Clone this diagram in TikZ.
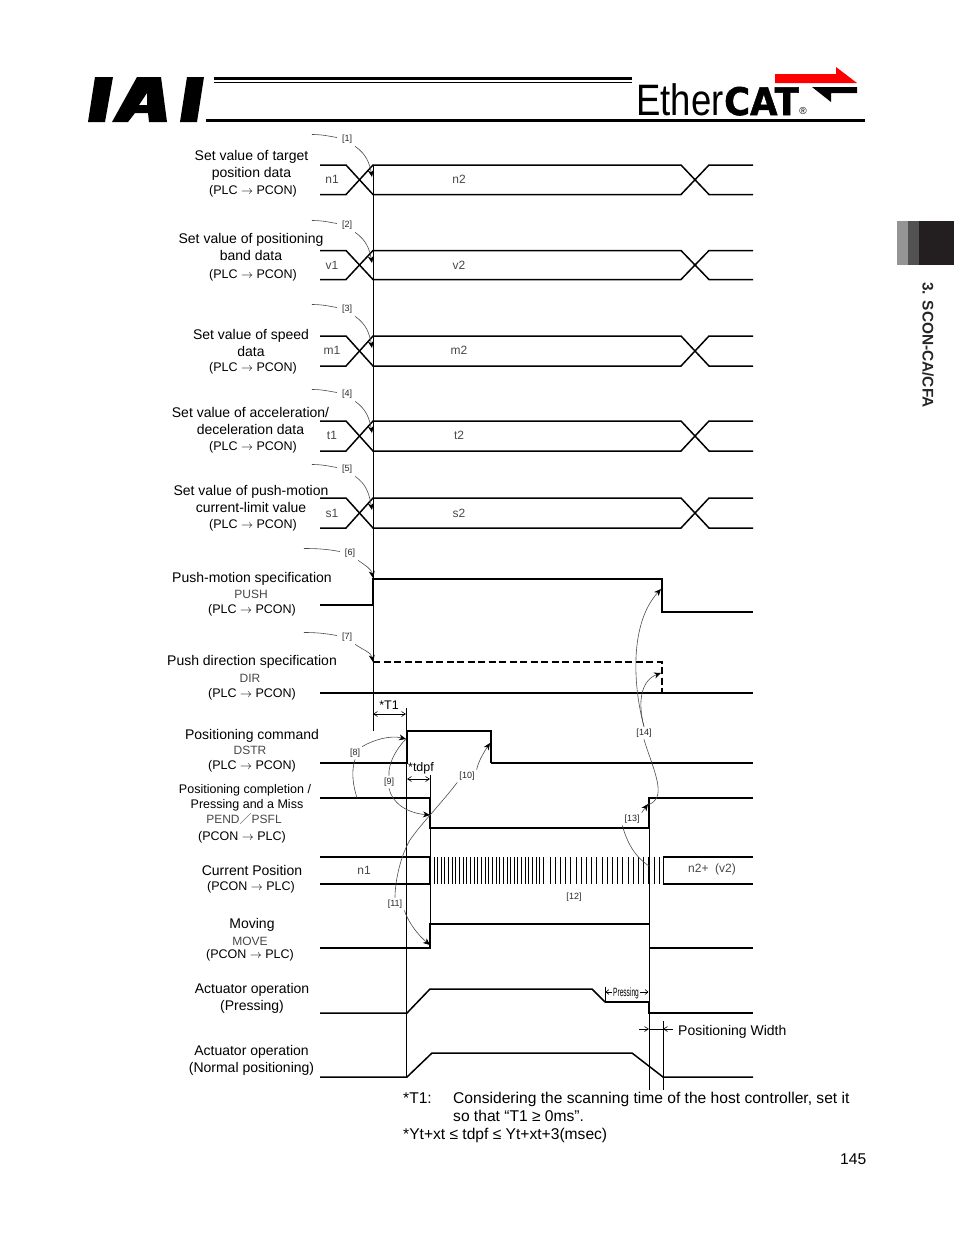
\documentclass[tikz,border=0pt]{standalone}
\usepackage{fontspec}
\setmainfont{Liberation Sans}
\newfontfamily\cjkfont{Noto Sans CJK JP}
\newfontfamily\catfont[BoldFeatures={FakeBold=1.5}]{DejaVu Sans}
\usetikzlibrary{arrows.meta}
\definecolor{tabdark}{HTML}{231F20}
\newcommand{\plcpcon}{(PLC $\rightarrow$ PCON)}
\newcommand{\pconplc}{(PCON $\rightarrow$ PLC)}
\newcommand{\smalltext}{\fontsize{12.5}{15}\selectfont}
\begin{document}
\begin{tikzpicture}[
  x=1pt, y=-1pt, >=Stealth,
  every node/.style={inner sep=0pt},
  sigtext/.style={font=\fontsize{14}{17}\selectfont, align=center},
  sigsmall/.style={font=\smalltext},
  sigcode/.style={font=\fontsize{12}{14}\selectfont, black!72},
  buslabel/.style={font=\fontsize{12}{14}\selectfont, black!72},
  tag/.style={font=\fontsize{9}{11}\selectfont, black!85, inner sep=2pt},
  note/.style={font=\fontsize{15.6}{18}\selectfont, anchor=base west},
  wave/.style={line width=2pt},
  bus/.style={line width=1.5pt},
  guide/.style={line width=1pt},
  call/.style={black!70, line width=0.6pt},
  callarr/.style={call, -{Stealth[length=7pt,width=6pt,black]}},
  dim/.style={line width=0.6pt, {Straight Barb[length=4pt,width=5pt]}-{Straight Barb[length=4pt,width=5pt]}}
]
\useasboundingbox (0,0) rectangle (954,1235);

%% Header logos
\fill (95,77) -- (113,77) -- (105,122) -- (88,122) -- cycle;
\fill[even odd rule] (137,77) -- (161,77) -- (167,122) -- (149,122) -- (148,113) -- (135,113) -- (128,122) -- (112,122) -- cycle
  (147,93) -- (147,105) -- (139,105) -- cycle;
\fill (187,77) -- (204,77) -- (197,122) -- (180,122) -- cycle;
\fill (214,76.5) rectangle (632,79.5);
\fill (214,81.5) rectangle (632,82.7);
\fill (206,118.8) rectangle (865,121.6);
\node[anchor=base west] (ether) at (636,115) {\scalebox{0.83}[1]{\fontsize{44}{44}\selectfont Ether}};
\node[anchor=base west] (cat) at (724,115) {\scalebox{0.93}[1]{\fontsize{38}{38}\selectfont\catfont\bfseries CAT}};
\node (regmark) at (803,111) {\fontsize{10}{10}\selectfont ®};
\fill[red] (775,74) -- (836,74) -- (836,67) -- (857,83) -- (775,83) -- cycle;
\fill (812,87) -- (857,87) -- (857,93) -- (831,93) -- (831,102) -- cycle;

%% Side tab
\fill[black!42] (897,221) rectangle (908,265);
\fill[black!68] (908,221) rectangle (919,265);
\fill[tabdark] (919,221) rectangle (954,265);
\node[rotate=-90, font=\fontsize{15.4}{17}\selectfont\bfseries, black!85] (chapter) at (928,345) {3. SCON-CA/CFA};

%% Guide lines
\draw[guide] (373,165) -- (373,731);
\draw[guide] (406.5,708) -- (406.5,1077);
\draw[guide] (430,775) -- (430,948);
\draw[guide] (649,798) -- (649,1090);
\draw[guide] (663,1021) -- (663,1090);

%% Data rows
\foreach \ytop/\ybot/\tagA/\tagB/\ymid in {165/194.5/n1/n2/179.5, 250.5/279.5/v1/v2/265.5, 336/366/m1/m2/350.5, 421/451/t1/t2/435.5, 498/528/s1/s2/513.5}{
  \draw[bus] (320,\ytop) -- (346,\ytop) -- (373,\ybot) -- (681,\ybot) -- (709,\ytop) -- (753,\ytop);
  \draw[bus] (320,\ybot) -- (346,\ybot) -- (373,\ytop) -- (681,\ytop) -- (709,\ybot) -- (753,\ybot);
  \node[buslabel] at (332,\ymid) {\tagA};
  \node[buslabel] at (459,\ymid) {\tagB};
}

%% Row labels
\node[sigtext] (target) at (251.5,165) {Set value of target\\position data};
\node[sigsmall] (targetdir) at (253,191) {\plcpcon};
\node[sigtext] (band) at (251,247) {Set value of positioning\\band data};
\node[sigsmall] (banddir) at (253,275) {\plcpcon};
\node[sigtext] (speed) at (251,343) {Set value of speed\\data};
\node[sigsmall] (speeddir) at (253,368) {\plcpcon};
\node[sigtext] (accel) at (250.5,421) {Set value of acceleration/\\deceleration data};
\node[sigsmall] (acceldir) at (253,447) {\plcpcon};
\node[sigtext] (limit) at (251,499) {Set value of push-motion\\current-limit value};
\node[sigsmall] (limitdir) at (253,525) {\plcpcon};
\node[sigtext] (push) at (252,578.5) {Push-motion specification};
\node[sigcode] (pushsig) at (251,594.5) {PUSH};
\node[sigsmall] (pushdir) at (252,610) {\plcpcon};
\node[sigtext] (dir) at (252,661.5) {Push direction specification};
\node[sigcode] (dirsig) at (250,678) {DIR};
\node[sigsmall] (dirdir) at (252,694) {\plcpcon};
\node[sigtext] (dstr) at (252,735.5) {Positioning command};
\node[sigcode] (dstrsig) at (250,750) {DSTR};
\node[sigsmall] (dstrdir) at (252,766) {\plcpcon};
\node[sigsmall] (pend) at (245,790) {Positioning completion /};
\node[sigsmall] (pend2) at (247,805) {Pressing and a Miss};
\node[sigcode] (pendsig) at (244,819) {PEND{\cjkfont ／}PSFL};
\node[sigsmall] (penddir) at (242,837) {\pconplc};
\node[sigtext] (curpos) at (252,870) {Current Position};
\node[sigsmall] (curposdir) at (251,887) {\pconplc};
\node[sigtext] (moving) at (252,924.5) {Moving};
\node[sigcode] (movesig) at (250,941) {MOVE};
\node[sigsmall] (movedir) at (250,955) {\pconplc};
\node[sigtext] (actp) at (252,998.5) {Actuator operation\\(Pressing)};
\node[sigtext] (actn) at (251.5,1060.5) {Actuator operation\\(Normal positioning)};

%% PUSH and DIR
\draw[wave] (320,605) -- (373,605) -- (373,579) -- (662,579) -- (662,612) -- (753,612);
\draw[line width=1.1pt, dash pattern=on 7pt off 3.5pt] (373,662) -- (662,662) -- (662,692);
\draw[wave] (320,693) -- (753,693);

%% DSTR and T1
\draw[wave] (320,763) -- (406.5,763) -- (406.5,731);
\draw[bus] (406.5,731) -- (491,731) -- (491,763);
\draw[wave] (491,763) -- (753,763);
\draw[dim] (373,714) -- (406,714);
\node[font=\fontsize{12.5}{15}\selectfont] (tone) at (389,705) {*T1};

%% PEND and tdpf
\draw[wave] (320,798) -- (430,798) -- (430,828) -- (649,828) -- (649,798) -- (753,798);
\draw[dim] (407,779) -- (430,779);
\node[font=\fontsize{12.5}{15}\selectfont] (tdpf) at (421,768) {*tdpf};

%% Current position
\draw[wave] (320,857) -- (430,857) -- (430,884);
\draw[bus] (320,884) -- (430,884);
\node[buslabel] (npos) at (364,870) {n1};
\foreach \x in {434,437.65,...,546}{
  \draw[line width=1pt] (\x,857) -- (\x,884);
}
\foreach \x in {550,555.2,...,661}{
  \draw[line width=1pt] (\x,857) -- (\x,884);
}
\draw[bus] (753,857) -- (663.5,857) -- (663.5,884) -- (753,884);
\node[buslabel] (nend) at (712,869.5) {n2+\ \ (v2)};

%% MOVE
\draw[wave] (320,948) -- (430,948) -- (430,924) -- (649,924);
\draw[wave] (649,948) -- (753,948);

%% Actuator pressing
\draw[bus] (320,1013) -- (407,1013) -- (430,989) -- (592,989) -- (605,1002);
\draw[wave] (605,1002) -- (649,1002);
\draw[bus] (649,1002) -- (649,1013) -- (753,1013);
\draw[line width=0.6pt] (605,987) -- (605,1002);
\draw[line width=0.6pt] (606,992) -- (612,992);
\draw[line width=0.6pt] (640,992) -- (648,992);
\draw[line width=0.6pt] (609,989.5) -- (606,992) -- (609,994.5);
\draw[line width=0.6pt] (645,989.5) -- (648,992) -- (645,994.5);
\node (pressing) at (626,993) {\scalebox{0.55}[1]{\fontsize{12}{14}\selectfont Pressing}};

%% Actuator positioning
\draw[bus] (320,1077) -- (407,1077) -- (432,1053) -- (632,1053) -- (663,1077) -- (753,1077);
\draw[line width=0.6pt, -{Straight Barb[length=4pt,width=5pt]}] (639,1029) -- (649,1029);
\draw[line width=0.6pt, -{Straight Barb[length=4pt,width=5pt]}] (673,1029) -- (663,1029);
\draw[line width=0.6pt] (649,1029) -- (663,1029);
\node[anchor=base west, font=\fontsize{14}{17}\selectfont] (poswidth) at (678,1035) {Positioning Width};

%% Tags
\foreach \name/\txt/\xx/\yy/\ax/\ay/\tail in {ca/1/347/139/372/177/25, cb/2/347/225/372/263/25, cc/3/347/309/372/348/25, cd/4/347/394/372/433/25, ce/5/347/469/372/510/25, cf/6/350/553/373/578/36, cg/7/347/637/373/662/33}{
  \node[tag] (\name) at (\xx,\yy) {[\txt]};
  \coordinate (\name tip) at (\ax,\ay);
  \draw[callarr] (\name.south east) ++(1,1) to[out=-35, in=100] (\name tip);
  \draw[call] (\name.west) ++(-3,-1.5) to[out=170, in=0] ++(-\tail,-3);
}
\node[tag] (ch) at (355,753) {[8]};
\node[tag] (ci) at (389,782) {[9]};
\node[tag] (cj) at (467,776) {[10]};
\node[tag] (ck) at (395,904) {[11]};
\node[tag] (cl) at (574,897) {[12]};
\node[tag] (cm) at (632,819) {[13]};
\node[tag] (cn) at (644,733) {[14]};
\coordinate (dstrup) at (406,739);
\coordinate (pendfall) at (430,815);
\coordinate (dstrfall) at (490,743);
\coordinate (moverise) at (430,945);
\coordinate (pendrise) at (648,804);
\coordinate (pushfall) at (661,589);
\coordinate (dirfall) at (661,673);
\draw[callarr] (ch.north east) .. controls (373,740) and (390,735) .. (dstrup);
\draw[call] (ch.south) .. controls (351,772) and (353,785) .. (357,798);
\draw[call] (dstrup) .. controls (395,750) and (388,765) .. (ci.north);
\draw[callarr] (ci.south) .. controls (392,803) and (407,813) .. (pendfall);
\draw[callarr] (cj.north east) .. controls (478,762) and (484,752) .. (dstrfall);
\draw[call] (cj.south west) .. controls (440,805) and (420,825) .. (410,840) .. controls (401,855) and (395,880) .. (ck.north);
\draw[callarr] (ck.south east) .. controls (408,922) and (418,935) .. (moverise);
\draw[callarr] (cm.north east) -- (pendrise);
\draw[call] (cm.south west) .. controls (627,842) and (634,856) .. (649,866);
\draw[call] (cn.south) .. controls (650,760) and (662,785) .. (657,797) .. controls (655,801) and (651,805) .. (pendrise);
\draw[callarr] (cn.north) .. controls (634,690) and (628,625) .. (pushfall);
\draw[callarr] (cn.north) .. controls (637,700) and (642,680) .. (dirfall);

%% Notes
\node[note] (tnote) at (403,1103) {*T1:};
\node[note] (tnotea) at (453,1103) {Considering the scanning time of the host controller, set it};
\node[note] (tnoteb) at (453,1121) {so that “T1 ≥ 0ms”.};
\node[note] (ytnote) at (403,1139) {*Yt+xt ≤ tdpf ≤ Yt+xt+3(msec)};
\node[note] (pagenum) at (840,1164) {145};

\end{tikzpicture}
\end{document}
